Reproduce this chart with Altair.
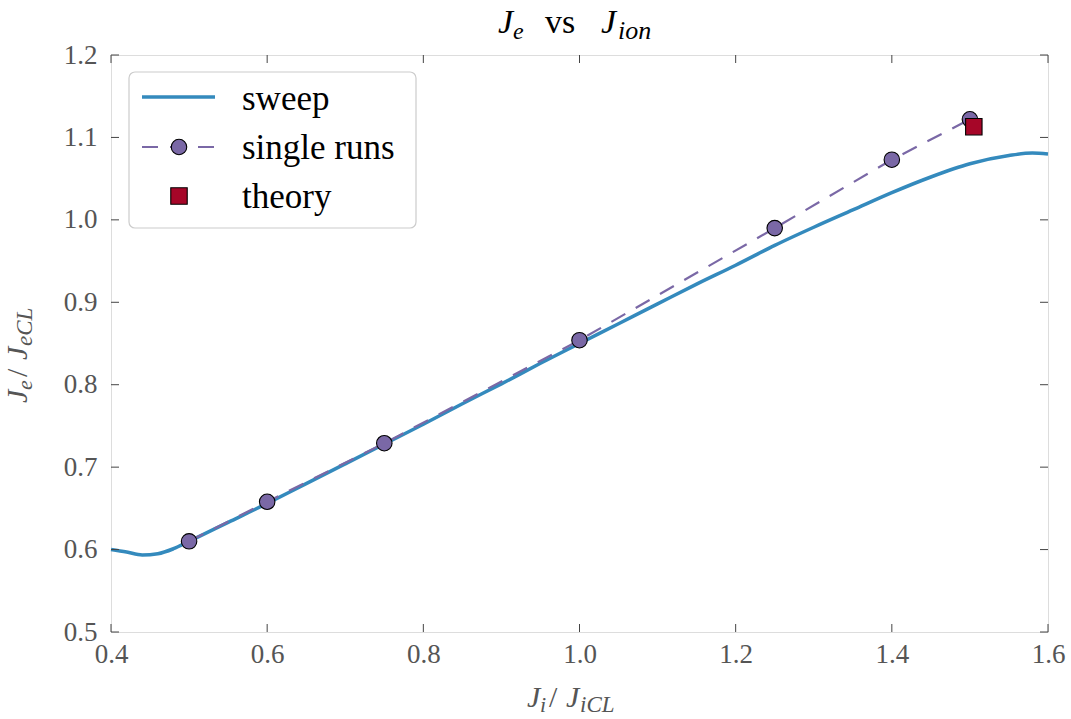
import altair as alt
import pandas as pd

# Parameter sweep of the electron current against the ion current
sweep_x = [0.40, 0.42, 0.44, 0.46, 0.48, 0.50, 0.55, 0.60, 0.65, 0.70, 0.75, 0.80,
           0.85, 0.90, 0.95, 1.00, 1.05, 1.10, 1.15, 1.20, 1.25, 1.30, 1.35, 1.40,
           1.45, 1.50, 1.55, 1.58, 1.60]
sweep_y = [0.600, 0.597, 0.5935, 0.595, 0.601, 0.610, 0.633, 0.656, 0.680, 0.704,
           0.728, 0.752, 0.777, 0.801, 0.826, 0.850, 0.874, 0.898, 0.922, 0.945,
           0.969, 0.991, 1.012, 1.033, 1.052, 1.068, 1.078, 1.081, 1.080]

# Individual simulation runs
run_x = [0.50, 0.60, 0.75, 1.00, 1.25, 1.40, 1.50]
run_y = [0.610, 0.658, 0.729, 0.854, 0.990, 1.073, 1.122]

# Theoretical prediction
theory_x = [1.505]
theory_y = [1.113]

x_ticks = [0.4, 0.6, 0.8, 1.0, 1.2, 1.4, 1.6]
y_ticks = [0.5, 0.6, 0.7, 0.8, 0.9, 1.0, 1.1, 1.2]

W, H = 937, 577
FONT = "Liberation Serif"
BLUE, PURPLE, RED = "#348ABD", "#7A68A6", "#A60628"
LABEL_GRAY = "#555555"
DASH = [16, 12]

xs = alt.Scale(domain=[0.4, 1.6], nice=False, zero=False, padding=0)
ys = alt.Scale(domain=[0.5, 1.2], nice=False, zero=False, padding=0)

sweep_df = pd.DataFrame({"x": sweep_x, "y": sweep_y})
runs_df = pd.DataFrame({"x": run_x, "y": run_y})
theory_df = pd.DataFrame({"x": theory_x, "y": theory_y})
xt_df = pd.DataFrame({"x": x_ticks})
yt_df = pd.DataFrame({"y": y_ticks})
one = pd.DataFrame({"k": [0]})

x_axis = alt.Axis(values=x_ticks, format=".1f", title=None, domain=False, ticks=False,
                  grid=False, labelFont=FONT, labelFontSize=27, labelColor=LABEL_GRAY,
                  labelPadding=9, labelFlush=False, labelOverlap=False)
y_axis = alt.Axis(values=y_ticks, format=".1f", title=None, domain=False, ticks=False,
                  grid=False, labelFont=FONT, labelFontSize=27, labelColor=LABEL_GRAY,
                  labelPadding=14, labelFlush=False, labelOverlap=False)

X = alt.X("x:Q", scale=xs, axis=x_axis)
Y = alt.Y("y:Q", scale=ys, axis=y_axis)

sweep = alt.Chart(sweep_df).mark_line(color=BLUE, strokeWidth=3.5, interpolate="monotone").encode(
    x=X, y=Y)

runs_line = alt.Chart(runs_df).mark_line(color=PURPLE, strokeWidth=2.2, strokeDash=DASH).encode(
    x=X, y=Y)
runs_pts = alt.Chart(runs_df).mark_point(
    shape="circle", filled=True, size=240, fill=PURPLE, stroke="black", strokeWidth=1.1, opacity=1
).encode(x=X, y=Y)
theory = alt.Chart(theory_df).mark_point(
    shape="square", filled=True, size=270, fill=RED, stroke="black", strokeWidth=1.1, opacity=1
).encode(x=X, y=Y)

# Inward tick marks on all four sides of the frame
TICK = 8
tick_style = dict(color="#444444", strokeWidth=1)
ticks_bottom = alt.Chart(xt_df).mark_rule(**tick_style).encode(
    x=X, y=alt.value(H), y2=alt.value(H - TICK))
ticks_top = alt.Chart(xt_df).mark_rule(**tick_style).encode(
    x=X, y=alt.value(0), y2=alt.value(TICK))
ticks_left = alt.Chart(yt_df).mark_rule(**tick_style).encode(
    y=Y, x=alt.value(0), x2=alt.value(TICK))
ticks_right = alt.Chart(yt_df).mark_rule(**tick_style).encode(
    y=Y, x=alt.value(W), x2=alt.value(W - TICK))


def txt(s, x, y, size, italic=False, angle=0, color="black"):
    props = dict(text=s, align="left", baseline="alphabetic", font=FONT, fontSize=size,
                 color=color)
    if italic:
        props["fontStyle"] = "italic"
    if angle:
        props["angle"] = angle
    return alt.Chart(one).mark_text(**props).encode(x=alt.value(x), y=alt.value(y))


# Title: J_e vs J_ion
title = [
    txt("J", 387, -22, 34, italic=True),
    txt("e", 402, -16, 24, italic=True),
    txt("vs", 434, -22, 34),
    txt("J", 490, -22, 34, italic=True),
    txt("ion", 507, -16, 26, italic=True),
]

# x-axis title: J_i / J_iCL
xtitle = [
    txt("J", 416, 652, 30, italic=True, color=LABEL_GRAY),
    txt("i", 429, 657, 22, italic=True, color=LABEL_GRAY),
    txt("/", 438, 652, 30, color=LABEL_GRAY),
    txt("J", 455, 652, 30, italic=True, color=LABEL_GRAY),
    txt("iCL", 469, 657, 23, italic=True, color=LABEL_GRAY),
]

# y-axis title: J_e / J_eCL (rotated)
ytitle = [
    txt("J", -84, 348, 30, italic=True, angle=270, color=LABEL_GRAY),
    txt("e", -79, 335, 22, italic=True, angle=270, color=LABEL_GRAY),
    txt("/", -84, 322, 30, angle=270, color=LABEL_GRAY),
    txt("J", -84, 305, 30, italic=True, angle=270, color=LABEL_GRAY),
    txt("eCL", -79, 291, 23, italic=True, angle=270, color=LABEL_GRAY),
]

# Legend box with three entries
leg_box = alt.Chart(one).mark_rect(fill="white", stroke="#cccccc", strokeWidth=1.2,
                                   cornerRadius=6).encode(
    x=alt.value(18), x2=alt.value(305), y=alt.value(17), y2=alt.value(173))
leg_sweep = alt.Chart(one).mark_rule(color=BLUE, strokeWidth=3.5).encode(
    x=alt.value(31), x2=alt.value(104), y=alt.value(42))
leg_runs_line = alt.Chart(one).mark_rule(color=PURPLE, strokeWidth=2.2, strokeDash=DASH).encode(
    x=alt.value(31), x2=alt.value(104), y=alt.value(92))
leg_runs_pt = alt.Chart(one).mark_point(shape="circle", filled=True, size=240, fill=PURPLE,
                                        stroke="black", strokeWidth=1.1, opacity=1).encode(
    x=alt.value(68), y=alt.value(92))
leg_theory = alt.Chart(one).mark_point(shape="square", filled=True, size=270, fill=RED,
                                       stroke="black", strokeWidth=1.1, opacity=1).encode(
    x=alt.value(68), y=alt.value(141))
leg_text = [
    txt("sweep", 131, 55, 35),
    txt("single runs", 131, 104, 35),
    txt("theory", 131, 153, 35),
]

chart = alt.layer(
    sweep, runs_line, runs_pts, theory,
    ticks_bottom, ticks_top, ticks_left, ticks_right,
    leg_box, leg_sweep, leg_runs_line, leg_runs_pt, leg_theory,
    *leg_text, *title, *xtitle, *ytitle,
).properties(
    width=W, height=H,
    autosize=alt.AutoSizeParams(type="none"),
    padding={"left": 111, "top": 55, "right": 23, "bottom": 87},
).configure_view(
    stroke="#b5b5b5", strokeWidth=3,
).configure(background="white")

chart.save("out.html", embed_options={"renderer": "svg", "actions": False})
